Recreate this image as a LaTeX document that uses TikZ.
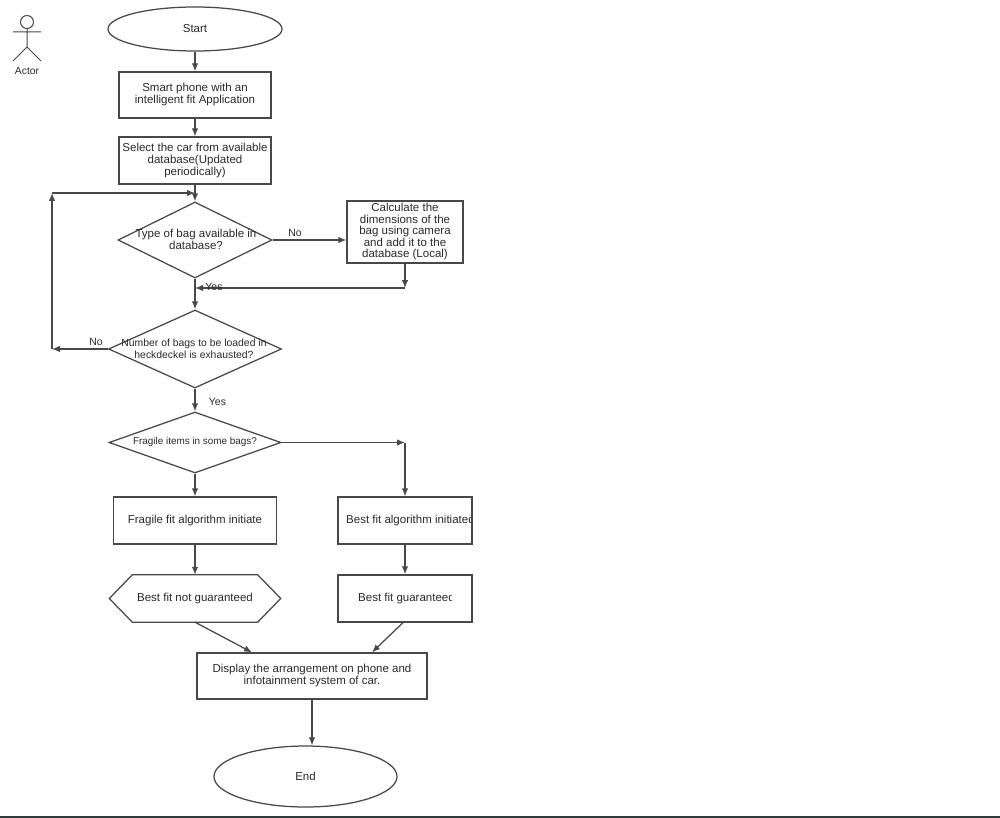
\documentclass[tikz,border=0pt]{standalone}
\usepackage{fontspec}
\setmainfont{Liberation Sans}
\usetikzlibrary{shapes.geometric,arrows.meta,calc}
\definecolor{ln}{HTML}{484848}
\definecolor{tx}{HTML}{2A2A2A}
\definecolor{strip}{HTML}{2F3B3B}
\begin{document}
\begin{tikzpicture}[x=1pt,y=-1pt,
  base/.style={draw=ln, line width=1.25pt, text=tx, font=\fontsize{11.5}{12}\selectfont, align=center, inner sep=0pt},
  box/.style={base, rectangle},
  ell/.style={base, ellipse},
  dia/.style={base, diamond},
  txt/.style={text=tx, font=\fontsize{11.5}{12}\selectfont, align=center, inner sep=0pt},
  arr/.style={draw=ln, line width=1.25pt, -{Latex[length=8pt,width=6.5pt]}},
  lne/.style={draw=ln, line width=1.25pt},
  lbl/.style={text=tx, font=\fontsize{10.5}{12}\selectfont, inner sep=0pt},
]
\useasboundingbox (0,0) rectangle (1000,818);
\fill[white] (0,0) rectangle (1000,818);
\fill[strip] (0,815.5) rectangle (1000,818);

% actor
\draw[lne, line width=1pt] (27,22) circle (6.5pt);
\draw[lne, line width=1pt] (27,28.5) -- (27,47) (13,32) -- (41,32) (13,61) -- (27,47) -- (41,61);
\node[lbl, font=\fontsize{10.3}{12}\selectfont] (actor) at (27,71) {Actor};

% nodes
\node[ell, minimum width=174pt, minimum height=44pt] (start) at (195,29) {Start};
\node[box, minimum width=152pt, minimum height=46pt] (b1) at (195,95) {Smart phone with an\\intelligent fit Application};
\node[box, minimum width=152pt, minimum height=47pt] (b2) at (195,160.5) {Select the car from available\\database(Updated\\periodically)};
\node[dia, minimum width=154pt, minimum height=76pt] (d1) at (195,240) {};
\node[txt] (d1t) at (196,239.5) {Type of bag available in\\database?};
\node[box, minimum width=116pt, minimum height=62pt, font=\fontsize{11.5}{11.5}\selectfont] (calc) at (405,232) {Calculate the\\dimensions of the\\bag using camera\\and add it to the\\database (Local)};
\node[dia, minimum width=173pt, minimum height=78pt] (d2) at (195,349) {};
\node[txt, font=\fontsize{10.4}{12}\selectfont] (d2t) at (194,349) {Number of bags to be loaded in\\heckdeckel is exhausted?};
\node[dia, minimum width=172pt, minimum height=61pt] (d3) at (195,442.5) {};
\node[txt, font=\fontsize{9.9}{12}\selectfont] (d3t) at (195,442) {Fragile items in some bags?};
\node[box, minimum width=163pt, minimum height=47pt] (fb) at (195,520.5) {Fragile fit algorithm initiate};
\node[box, minimum width=134pt, minimum height=47pt] (bb) at (405,520.5) {};
\node[txt, minimum width=171pt, minimum height=47pt] (hex) at (195,598.5) {Best fit not guaranteed};
\draw[lne] (hex.west) -- ($(hex.north west)+(23,0)$) -- ($(hex.north east)+(-23,0)$) -- (hex.east) -- ($(hex.south east)+(-23,0)$) -- ($(hex.south west)+(23,0)$) -- cycle;
\node[box, minimum width=134pt, minimum height=47pt] (bg) at (405,598.5) {};
\node[box, minimum width=230pt, minimum height=46pt] (disp) at (312,676) {Display the arrangement on phone and\\infotainment system of car.};
\node[ell, minimum width=183pt, minimum height=61pt] (end) at (305.5,776.5) {End};

% clipped texts
\begin{scope}
  \clip (339,500) rectangle (470,541);
  \node[txt, anchor=west] (bbt) at (346,520.5) {Best fit algorithm initiated};
\end{scope}
\begin{scope}
  \clip (339,578) rectangle (451,619);
  \node[txt, anchor=west] (bgt) at (358,598.5) {Best fit guaranteed};
\end{scope}

% helper coordinates
\coordinate (c1) at (405,288);
\coordinate (j1) at (195,288);
\coordinate (l1) at (52,349);
\coordinate (l2) at (52,193);
\coordinate (j0) at (195,193);
\coordinate (r1) at (405,442.5);

% connectors
\draw[arr] (start.south) -- (b1.north);
\draw[arr] (b1.south) -- (b2.north);
\draw[arr] (b2.south) -- (d1.north);
\draw[arr] (d1.east) -- (d1.east -| calc.west);
\node[lbl] (no1) at (295,232.5) {No};
\draw[arr] (calc.south) -- (c1);
\draw[arr] (c1) -- (j1);
\node[lbl] (yes1) at (214,287) {Yes};
\draw[arr] (d1.south) -- (d2.north);
\draw[arr] (d2.west) -- (l1);
\node[lbl] (no2) at (96,341.5) {No};
\draw[arr] (l1) -- (l2);
\draw[arr] (l2) -- (j0);
\draw[arr] (d2.south) -- (d3.north);
\node[lbl] (yes2) at (217.5,401.5) {Yes};
\draw[arr] (d3.east) -- (r1);
\draw[arr] (r1) -- (bb.north);
\draw[arr] (d3.south) -- (fb.north);
\draw[arr] (fb.south) -- (hex.north);
\draw[arr] (bb.south) -- (bg.north);
\draw[arr] (hex.south) -- ($(disp.north)+(-60,0)$);
\draw[arr] ($(bg.south)+(-2,0)$) -- ($(disp.north)+(60,0)$);
\draw[arr] (disp.south) -- (disp.south |- end.north);
\end{tikzpicture}
\end{document}
